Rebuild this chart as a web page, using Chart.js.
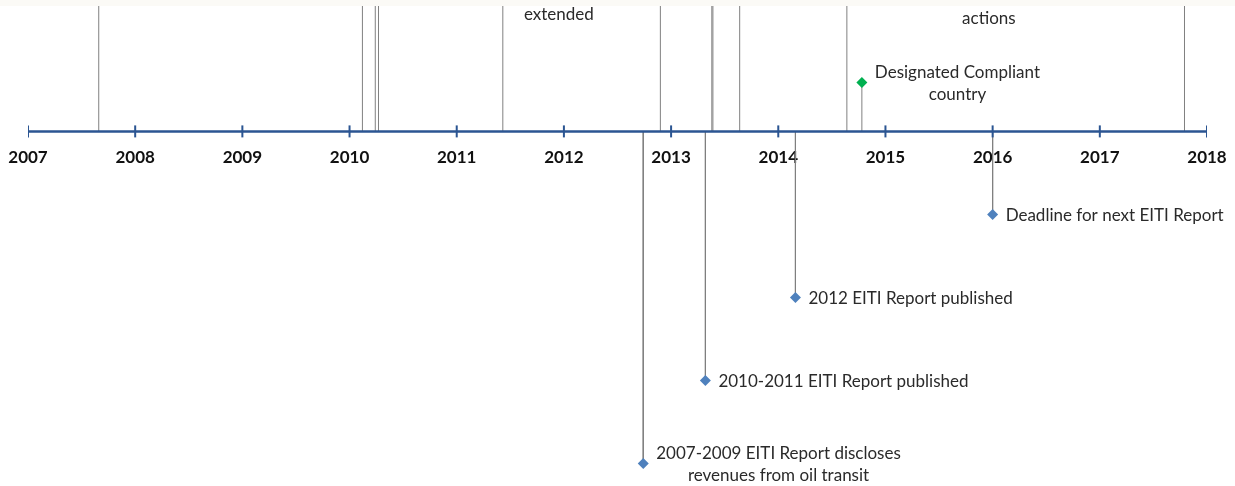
<!DOCTYPE html>
<html>
<head>
<meta charset="utf-8">
<script src="https://cdn.jsdelivr.net/npm/chart.js@4.4.1/dist/chart.umd.min.js"></script>
<style>
  html, body { margin: 0; padding: 0; background: #fbfaf6; overflow: hidden; }
  #wrap { position: absolute; top: 6px; left: 0; width: 1235px; height: 480px; background: #fff; }
</style>
</head>
<body>
<div id="wrap"><canvas id="timeline"></canvas></div>
<script>
// axis years
const years = [2007, 2008, 2009, 2010, 2011, 2012, 2013, 2014, 2015, 2016, 2017, 2018];
const yearLabels = ['2007', '2008', '2009', '2010', '2011', '2012', '2013', '2014', '2015', '2016', '2017', '2018'];

// events: date (decimal year), stem height, label lines, kind
// events above the frame have their upper text cropped off in the picture ('' lines)
const eventDates  = [2007.66, 2010.12, 2010.24, 2010.27, 2011.43, 2012.74, 2012.90, 2013.32, 2013.38, 2013.39, 2013.64, 2014.16, 2014.64, 2014.78, 2016.00, 2017.79];
const eventLevels = [2.2, 3.0, 2.4, 1.9, 1.68, -4, 2.6, -3, 3.2, 2.0, 2.4, -2, 1.64, 0.59, -1, 2.2];
const eventLabels = [
  [], [], [], [],
  ['', '', 'extended'],
  ['2007-2009 EITI Report discloses', 'revenues from oil transit'],
  [],
  ['2010-2011 EITI Report published'],
  [], [], [],
  ['2012 EITI Report published'],
  ['', '', 'actions'],
  ['Designated Compliant', 'country'],
  ['Deadline for next EITI Report'],
  []
];
const eventKinds = ['step', 'step', 'step', 'step', 'step', 'report', 'step', 'report', 'step', 'step', 'step', 'report', 'step', 'compliant', 'report', 'step'];

const kindColor = { step: '#4f81bd', report: '#4f81bd', compliant: '#00b050' };
// width of label blocks whose first lines are cut off (for centring the visible line)
const hiddenBlockWidth = { extended: 86, actions: 258 };
const axisBlue = '#2b5592';
const LABEL_FONT = '17px Lato';

const stemPoints = [];
eventDates.forEach((d, i) => {
  stemPoints.push({ x: d, y: 0 }, { x: d, y: eventLevels[i] }, { x: d, y: null });
});

const labelPlugin = {
  id: 'eventLabels',
  afterDatasetsDraw(chart) {
    const meta = chart.getDatasetMeta(3);
    const ctx = chart.ctx;
    ctx.save();
    ctx.font = LABEL_FONT;
    ctx.fillStyle = '#2a2a2a';
    ctx.textAlign = 'center';
    ctx.textBaseline = 'middle';
    meta.data.forEach((pt, i) => {
      const lines = eventLabels[i];
      if (!lines.length) return;
      const last = lines[lines.length - 1];
      const w = hiddenBlockWidth[last] || Math.max(...lines.map(l => ctx.measureText(l).width));
      const cx = pt.x + 13 + w / 2;
      lines.forEach((line, j) => {
        ctx.fillText(line, cx, pt.y + 1 + (j - (lines.length - 1) / 2) * 22);
      });
    });
    ctx.restore();
  }
};

new Chart(document.getElementById('timeline'), {
  type: 'scatter',
  data: {
    datasets: [
      {
        label: 'stems',
        data: stemPoints,
        showLine: true,
        spanGaps: false,
        borderColor: '#808080',
        borderWidth: 1,
        pointRadius: 0,
        order: 4
      },
      {
        label: 'axis',
        data: [{ x: years[0], y: 0 }, { x: years[years.length - 1], y: 0 }],
        showLine: true,
        borderColor: axisBlue,
        borderWidth: 2.5,
        pointRadius: 0,
        order: 2
      },
      {
        label: 'ticks',
        data: years.map(y => ({ x: y, y: 0 })),
        pointStyle: 'line',
        rotation: 90,
        radius: 6,
        borderColor: axisBlue,
        borderWidth: 2,
        order: 1
      },
      {
        label: 'events',
        data: eventDates.map((d, i) => ({ x: d, y: eventLevels[i] })),
        pointStyle: 'rectRot',
        radius: 5.5,
        borderWidth: 0,
        backgroundColor: eventKinds.map(k => kindColor[k]),
        order: 0
      }
    ]
  },
  options: {
    responsive: true,
    maintainAspectRatio: false,
    animation: false,
    events: [],
    layout: { autoPadding: false, padding: { left: 28, right: 28, top: 0, bottom: 0 } },
    plugins: {
      legend: { display: false },
      tooltip: { enabled: false }
    },
    elements: { line: { tension: 0 } },
    scales: {
      x: {
        type: 'linear',
        position: { y: 0 },
        min: years[0],
        max: years[years.length - 1],
        grid: { display: false, drawTicks: false },
        border: { display: false },
        afterFit: scale => { scale.paddingLeft = 0; scale.paddingRight = 0; },
        ticks: {
          stepSize: 1,
          padding: 16,
          color: '#111',
          font: { family: 'Lato', size: 17, weight: 'bold' },
          callback: v => yearLabels[years.indexOf(v)]
        }
      },
      y: {
        display: false,
        min: -4.27,
        max: 1.51
      }
    }
  },
  plugins: [labelPlugin]
});
</script>
</body>
</html>
